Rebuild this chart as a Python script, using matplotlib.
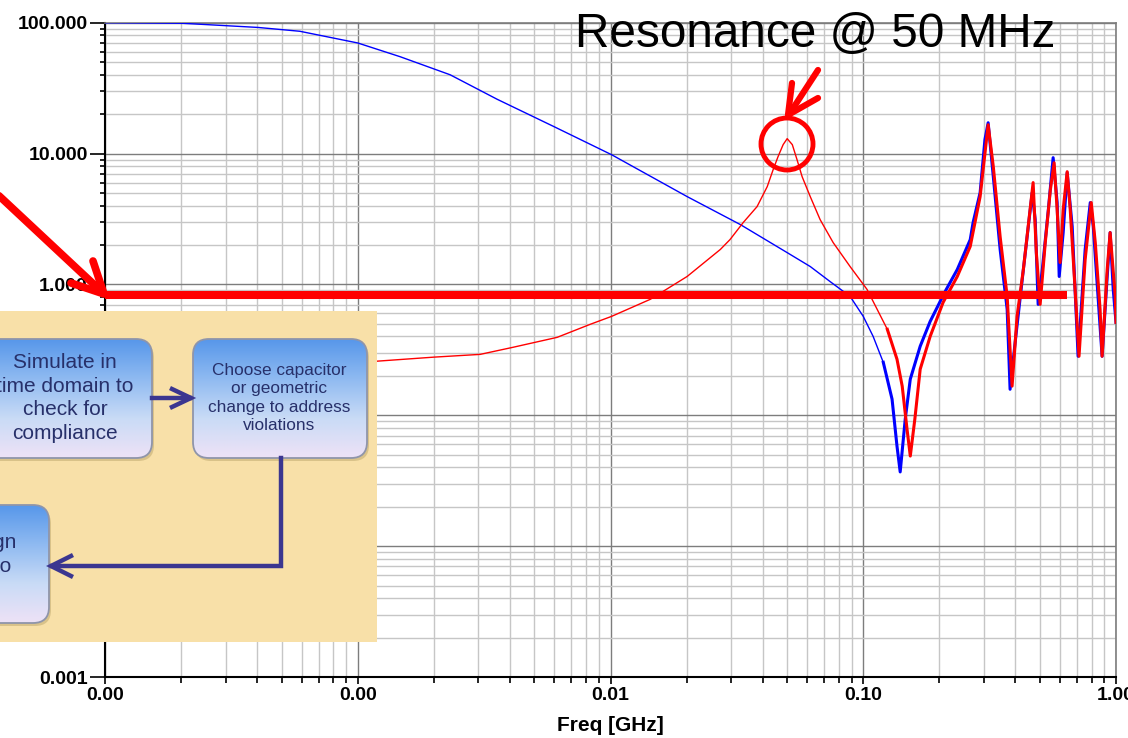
import numpy as np
import matplotlib
matplotlib.use('Agg')
import matplotlib.pyplot as plt
from matplotlib.ticker import LogLocator, FixedLocator, FixedFormatter, NullFormatter
from matplotlib.patches import FancyBboxPatch, Ellipse
from matplotlib.lines import Line2D
from matplotlib.colors import LinearSegmentedColormap

# ---------------- data ----------------
freq_blue = [1e-4, 2.02e-4, 4.03e-4, 5.9e-4, 1e-3, 1.47e-3, 2.32e-3, 3.56e-3, 6.0e-3,
             0.0101, 0.0201, 0.0326, 0.050, 0.0617, 0.074, 0.0887, 0.100, 0.1094, 0.120,
             0.130, 0.136, 0.140, 0.1466, 0.1535, 0.168, 0.184, 0.211, 0.2355, 0.265,
             0.272, 0.290, 0.303, 0.312, 0.327, 0.348, 0.371, 0.381, 0.399, 0.430, 0.466,
             0.479, 0.492, 0.511, 0.540, 0.564, 0.585, 0.596, 0.618, 0.641, 0.671, 0.708,
             0.755, 0.791, 0.813, 0.881, 0.923, 0.948, 0.975, 1.0]
mag_blue = [100, 99, 92, 86, 70, 55, 40, 26, 16.0,
            9.8, 4.69, 2.87, 1.75, 1.37, 1.05, 0.81, 0.57, 0.401, 0.254,
            0.133, 0.058, 0.0369, 0.0935, 0.189, 0.337, 0.522, 0.885, 1.30, 2.20,
            2.97, 5.03, 12.8, 17.2, 6.66, 1.85, 0.645, 0.158, 0.361, 1.30, 5.03,
            3.13, 0.704, 1.30, 3.73, 9.3, 4.22, 1.15, 2.49, 7.14, 2.77, 0.2825,
            1.85, 4.22, 2.77, 0.2825, 1.15, 2.49, 0.916, 0.513]

freq_red = [1e-4, 3e-4, 1.19e-3, 1.99e-3, 3.05e-3, 4.12e-3, 6.15e-3, 8.3e-3, 0.0101,
            0.01436, 0.0201, 0.0272, 0.0297, 0.0335, 0.038, 0.0417, 0.044, 0.046,
            0.0482, 0.0500, 0.0524, 0.0547, 0.0573, 0.0617, 0.0675, 0.076, 0.0887,
            0.1035, 0.1245, 0.136, 0.1426, 0.149, 0.1535, 0.160, 0.168, 0.184, 0.207,
            0.2355, 0.265, 0.290, 0.312, 0.327, 0.348, 0.371, 0.388, 0.406, 0.430,
            0.470, 0.484, 0.501, 0.525, 0.550, 0.569, 0.585, 0.601, 0.618, 0.641,
            0.659, 0.690, 0.714, 0.755, 0.798, 0.828, 0.865, 0.881, 0.923, 0.948,
            0.993, 1.0]
mag_red = [0.25, 0.252, 0.259, 0.278, 0.292, 0.331, 0.394, 0.495, 0.570,
           0.769, 1.15, 1.85, 2.20, 2.97, 3.93, 5.59, 7.53, 9.46,
           11.7, 13.0, 11.7, 8.98, 6.66, 4.69, 3.13, 2.09, 1.37,
           0.916, 0.454, 0.268, 0.167, 0.0784, 0.0488, 0.0935, 0.225, 0.401, 0.729,
           1.15, 1.95, 4.69, 16.6, 7.94, 2.32, 0.81, 0.167, 0.57, 1.30,
           6.0, 1.75, 0.704, 2.09, 5.30, 8.51, 3.73, 1.47, 3.73, 7.27,
           3.73, 0.87, 0.2825, 1.55, 4.22, 2.09, 0.645, 0.2825, 1.30, 2.49,
           0.81, 0.513]

target_level = 0.83
target_freq_range = [1e-4, 0.64]

x_ticks = [1e-4, 1e-3, 1e-2, 1e-1, 1.0]
x_tick_labels = ['0.00', '0.00', '0.01', '0.10', '1.00']
y_ticks = [1e-3, 1e-2, 1e-1, 1.0, 10.0, 100.0]
y_tick_labels = ['0.001', '0.010', '0.100', '1.000', '10.000', '100.000']
x_label = 'Freq [GHz]'
annotation_text = 'Resonance @ 50 MHz'

box1_text = 'Simulate in\ntime domain to\ncheck for\ncompliance'
box2_text = 'Choose capacitor\nor geometric\nchange to address\nviolations'
box3_text = 'Redesign\nlayout to\nfix.'

# ---------------- figure ----------------
plt.rcParams['font.family'] = ['Liberation Sans', 'DejaVu Sans']
W, H = 1128, 738
fig = plt.figure(figsize=(W / 100, H / 100), dpi=100)


def fx(px):
    return px / W


def fy(py):
    return 1 - py / H


ax = fig.add_axes([fx(105), fy(677), (1116 - 105) / W, (677 - 22.7) / H], zorder=1)
ax.set_xscale('log')
ax.set_yscale('log')
ax.set_xlim(1e-4, 1.0)
ax.set_ylim(1e-3, 100)
ax.set_axisbelow(True)

ax.xaxis.set_major_locator(FixedLocator(x_ticks))
ax.xaxis.set_major_formatter(FixedFormatter(x_tick_labels))
ax.yaxis.set_major_locator(FixedLocator(y_ticks))
ax.yaxis.set_major_formatter(FixedFormatter(y_tick_labels))
ax.xaxis.set_minor_locator(LogLocator(base=10, subs=np.arange(2, 10)))
ax.yaxis.set_minor_locator(LogLocator(base=10, subs=np.arange(2, 10)))
ax.xaxis.set_minor_formatter(NullFormatter())
ax.yaxis.set_minor_formatter(NullFormatter())

ax.grid(which='minor', color='#c6c6c6', lw=1.0)
ax.grid(which='major', color='#7d7d7d', lw=1.0)

ax.tick_params(axis='y', which='major', length=11, width=1.2, pad=1.5, labelsize=14)
ax.tick_params(axis='y', which='minor', length=3.6, width=1.2)
ax.tick_params(axis='x', which='major', length=5, width=1.2, pad=2.5, labelsize=14)
ax.tick_params(axis='x', which='minor', length=4, width=1.2)
for lbl in ax.get_xticklabels() + ax.get_yticklabels():
    lbl.set_fontweight('bold')

for side in ['left', 'bottom']:
    ax.spines[side].set_color('black')
    ax.spines[side].set_linewidth(1.5)
for side in ['top', 'right']:
    ax.spines[side].set_color('#7d7d7d')
    ax.spines[side].set_linewidth(1.2)

ax.set_xlabel(x_label, fontsize=15, fontweight='bold', labelpad=8)

fb = np.array(freq_blue)
mb = np.array(mag_blue)
fr = np.array(freq_red)
mr = np.array(mag_red)

ax.plot(fb, mb, color='#0000ff', lw=1.0, zorder=3)
hb = fb >= 0.12
ax.plot(fb[hb], mb[hb], color='#0000ff', lw=2.2, zorder=3)
ax.plot(fr, mr, color='#ff0000', lw=1.0, zorder=4)
hr = fr >= 0.12
ax.plot(fr[hr], mr[hr], color='#ff0000', lw=2.2, zorder=4)

ax.plot(target_freq_range, [target_level, target_level], color='#ff0000', lw=5.8,
        solid_capstyle='butt', zorder=5)

# ---------------- flow chart inset ----------------
fax = fig.add_axes([0, fy(642), 377 / W, (642 - 311) / H], zorder=3)
fax.set_facecolor('#f8e0a8')
for s in fax.spines.values():
    s.set_visible(False)
fax.set_xticks([])
fax.set_yticks([])

cmap = LinearSegmentedColormap.from_list('box', ['#5797ea', '#8fbaf1', '#c9dbf6', '#eee2f6'])
grad = np.linspace(0, 1, 256).reshape(-1, 1)


def box(x0, y0, x1, y1):
    sh = FancyBboxPatch((x0 + 2, y0 + 3), x1 - x0, y1 - y0,
                        boxstyle='round,pad=0,rounding_size=16',
                        fc='#d9c289', ec='none', zorder=1)
    fax.add_patch(sh)
    p = FancyBboxPatch((x0, y0), x1 - x0, y1 - y0,
                       boxstyle='round,pad=0,rounding_size=16',
                       fc='none', ec='#8f95aa', lw=1.3, zorder=3)
    fax.add_patch(p)
    im = fax.imshow(grad, extent=[x0, x1, y1, y0], cmap=cmap, aspect='auto',
                    zorder=2, interpolation='bilinear')
    im.set_clip_path(p)


box(-90, 339, 152, 458)
box(193, 339, 367, 458)
box(-120, 505, 49, 623)

txt_col = '#27306a'
fax.text(65, 398, box1_text, ha='center', va='center', fontsize=15,
         color=txt_col, linespacing=1.3, zorder=5)
fax.text(279, 398, box2_text, ha='center', va='center', fontsize=12.4,
         color=txt_col, linespacing=1.27, zorder=5)
fax.text(-28, 566, box3_text, ha='center', va='center', fontsize=15,
         color=txt_col, linespacing=1.3, zorder=5)

arrow_col = '#3b3690'
fax.add_line(Line2D([152, 190], [398, 398], color=arrow_col, lw=3.2, zorder=4))
fax.add_line(Line2D([172, 191, 172], [389, 398, 407], color=arrow_col, lw=3.2,
                    zorder=4, solid_joinstyle='miter'))
fax.add_line(Line2D([281, 281, 52], [458, 566, 566], color=arrow_col, lw=3.2,
                    zorder=4, solid_joinstyle='miter'))
fax.add_line(Line2D([71, 51, 71], [556, 566, 576], color=arrow_col, lw=3.2,
                    zorder=4, solid_joinstyle='miter'))

fax.set_xlim(0, 377)
fax.set_ylim(642, 311)

# ---------------- red annotations ----------------
def fig_line(xs, ys, lw):
    ln = Line2D([fx(v) for v in xs], [fy(v) for v in ys], transform=fig.transFigure,
                color='#ff0000', lw=lw, solid_capstyle='round', solid_joinstyle='round',
                zorder=10)
    fig.add_artist(ln)


fig_line([-5, 102], [192, 292], 5.5)
fig_line([93, 104, 71], [261, 294, 283], 5.5)

fig_line([818, 790], [70, 113], 4.5)
fig_line([792, 788, 818], [83, 115, 98], 4.5)

circ = Ellipse((fx(787), fy(144)), 52 / W, 52 / H, transform=fig.transFigure,
               fill=False, ec='#ff0000', lw=3.5, zorder=10)
fig.add_artist(circ)

fig.text(fx(575), fy(47), annotation_text, fontsize=34.4, ha='left', va='baseline',
         color='black', zorder=10)

fig.savefig('out.png', dpi=100)
